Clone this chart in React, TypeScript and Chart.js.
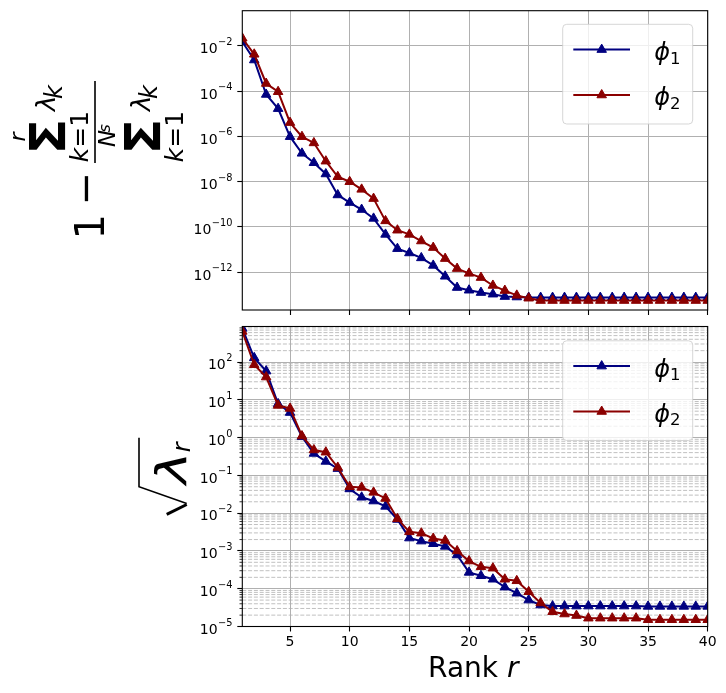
import React, { useEffect, useRef } from 'react';
import { Chart, registerables } from 'chart.js';

Chart.register(...registerables);

const FONT = "'DejaVu Sans'";
const NAVY = '#000080';
const DARKRED = '#8b0000';
const GRID = '#b0b0b0';

// ---------------- data ----------------
const ranks = [1, 2, 3, 4, 5, 6, 7, 8, 9, 10, 11, 12, 13, 14, 15, 16, 17, 18, 19, 20,
  21, 22, 23, 24, 25, 26, 27, 28, 29, 30, 31, 32, 33, 34, 35, 36, 37, 38, 39, 40];
const xTicks = [5, 10, 15, 20, 25, 30, 35, 40];
const topYTicks = [1e-2, 1e-4, 1e-6, 1e-8, 1e-10, 1e-12];
const bottomYTicks = [1e2, 1e1, 1e0, 1e-1, 1e-2, 1e-3, 1e-4, 1e-5];
const minorMultipliers = [2, 3, 4, 5, 6, 7, 8, 9];
const topYMin = 2.14e-14;
const topYMax = 0.363;
const bottomYMin = 1e-5;
const bottomYMax = 871;
const legendSubscripts = ['1', '2'];

// 1 - sum_{k<=r} lambda_k / sum lambda_k
const topPhi1 = [1.55e-2, 2.4e-3, 7.2e-5, 1.7e-5, 9.8e-7, 1.8e-7, 6.9e-8, 2.2e-8, 2.6e-9, 1.2e-9,
  5.9e-10, 2.4e-10, 4.7e-11, 1.1e-11, 7.1e-12, 4.3e-12, 2.0e-12, 6.6e-13, 2.1e-13, 1.6e-13,
  1.26e-13, 1.07e-13, 8.4e-14, 8.0e-14, 7.6e-14, 7.6e-14, 7.6e-14, 7.6e-14, 7.6e-14, 7.6e-14,
  7.6e-14, 7.6e-14, 7.6e-14, 7.6e-14, 7.6e-14, 7.6e-14, 7.6e-14, 7.6e-14, 7.6e-14, 7.6e-14];
const topPhi2 = [2.2e-2, 4.3e-3, 2.2e-4, 9.5e-5, 4.1e-6, 9.8e-7, 5.2e-7, 8.1e-8, 1.66e-8, 1.0e-8,
  4.6e-9, 1.8e-9, 1.86e-10, 7.2e-11, 4.7e-11, 2.4e-11, 1.23e-11, 4.0e-12, 1.45e-12, 8.9e-13,
  5.8e-13, 2.6e-13, 1.55e-13, 9.5e-14, 7.1e-14, 5.6e-14, 5.6e-14, 5.6e-14, 5.6e-14, 5.6e-14,
  5.6e-14, 5.6e-14, 5.6e-14, 5.6e-14, 5.6e-14, 5.6e-14, 5.6e-14, 5.6e-14, 5.6e-14, 5.6e-14];

// sqrt(lambda_r)
const botPhi1 = [776, 129, 57.5, 7.8, 4.6, 1.05, 0.38, 0.234, 0.151, 0.0437,
  0.0263, 0.0209, 0.0151, 6.8e-3, 2.19e-3, 1.82e-3, 1.55e-3, 1.32e-3, 7.8e-4, 2.7e-4,
  2.2e-4, 1.78e-4, 1.10e-4, 7.6e-5, 5.0e-5, 3.7e-5, 3.47e-5, 3.47e-5, 3.47e-5, 3.47e-5,
  3.47e-5, 3.47e-5, 3.47e-5, 3.47e-5, 3.4e-5, 3.4e-5, 3.4e-5, 3.4e-5, 3.4e-5, 3.4e-5];
const botPhi2 = [646, 85, 40, 7.1, 5.9, 1.1, 0.47, 0.41, 0.162, 0.050,
  0.048, 0.0355, 0.0245, 7.1e-3, 3.2e-3, 2.95e-3, 2.14e-3, 1.9e-3, 1.0e-3, 5.4e-4,
  3.8e-4, 3.5e-4, 1.78e-4, 1.62e-4, 8.3e-5, 4.2e-5, 2.45e-5, 2.14e-5, 1.95e-5, 1.66e-5,
  1.66e-5, 1.66e-5, 1.66e-5, 1.66e-5, 1.51e-5, 1.51e-5, 1.51e-5, 1.51e-5, 1.51e-5, 1.51e-5];

// ---------------- drawing helpers ----------------
type Run = { text: string; font: string; dy?: number };

function drawInk(ctx: CanvasRenderingContext2D, runs: Run[], cx: number, cy: number, rotate: boolean) {
  ctx.save();
  ctx.translate(cx, cy);
  if (rotate) ctx.rotate(-Math.PI / 2);
  ctx.textAlign = 'left';
  ctx.textBaseline = 'alphabetic';
  let pen = 0;
  let left = Infinity, right = -Infinity, asc = 0, desc = 0;
  const pens: number[] = [];
  for (const r of runs) {
    ctx.font = r.font;
    const m = ctx.measureText(r.text);
    const dy = r.dy || 0;
    pens.push(pen);
    left = Math.min(left, pen - m.actualBoundingBoxLeft);
    right = Math.max(right, pen + m.actualBoundingBoxRight);
    asc = Math.max(asc, m.actualBoundingBoxAscent - dy);
    desc = Math.max(desc, m.actualBoundingBoxDescent + dy);
    pen += m.width;
  }
  const ox = -(left + right) / 2;
  const oy = (asc - desc) / 2;
  runs.forEach((r, i) => {
    ctx.font = r.font;
    ctx.fillText(r.text, ox + pens[i], oy + (r.dy || 0));
  });
  ctx.restore();
}

function drawFit(ctx: CanvasRenderingContext2D, text: string, font: string, cx: number, cy: number,
  along: number, perp: number, rotate: boolean) {
  ctx.save();
  ctx.translate(cx, cy);
  if (rotate) ctx.rotate(-Math.PI / 2);
  ctx.font = font;
  ctx.textAlign = 'left';
  ctx.textBaseline = 'alphabetic';
  const m = ctx.measureText(text);
  const w = m.actualBoundingBoxLeft + m.actualBoundingBoxRight;
  const h = m.actualBoundingBoxAscent + m.actualBoundingBoxDescent;
  ctx.scale(along / w, perp / h);
  ctx.fillText(text, -(m.actualBoundingBoxRight - m.actualBoundingBoxLeft) / 2,
    (m.actualBoundingBoxAscent - m.actualBoundingBoxDescent) / 2);
  ctx.restore();
}

function drawLogLabels(ctx: CanvasRenderingContext2D, scale: any, ticks: number[], rightX: number) {
  ctx.save();
  ctx.fillStyle = '#000';
  ctx.textAlign = 'right';
  ctx.textBaseline = 'alphabetic';
  for (const v of ticks) {
    const py = scale.getPixelForValue(v);
    const e = Math.round(Math.log10(v));
    const es = e < 0 ? '\u2212' + String(-e) : String(e);
    ctx.font = `9.8px ${FONT}`;
    ctx.fillText(es, rightX, py - 1);
    const ew = ctx.measureText(es).width;
    ctx.font = `14px ${FONT}`;
    ctx.fillText('10', rightX - ew - 0.5, py + 7.3);
  }
  ctx.restore();
}

function drawFrame(chart: any) {
  const ctx: CanvasRenderingContext2D = chart.ctx;
  const a = chart.chartArea;
  ctx.save();
  ctx.strokeStyle = '#000';
  ctx.lineWidth = 1.1;
  ctx.strokeRect(a.left, a.top, a.right - a.left, a.bottom - a.top);
  ctx.restore();
}

function drawTriangle(ctx: CanvasRenderingContext2D, x: number, y: number, r: number, color: string) {
  ctx.save();
  ctx.fillStyle = color;
  ctx.strokeStyle = color;
  ctx.lineWidth = 1;
  ctx.beginPath();
  let rad = 0;
  const third = (2 * Math.PI) / 3;
  ctx.moveTo(x + Math.sin(rad) * r, y - Math.cos(rad) * r);
  rad += third;
  ctx.lineTo(x + Math.sin(rad) * r, y - Math.cos(rad) * r);
  rad += third;
  ctx.lineTo(x + Math.sin(rad) * r, y - Math.cos(rad) * r);
  ctx.closePath();
  ctx.fill();
  ctx.stroke();
  ctx.restore();
}

function drawLegend(ctx: CanvasRenderingContext2D, left: number, top: number) {
  ctx.save();
  ctx.beginPath();
  (ctx as any).roundRect(left, top, 130, 99.7, 4);
  ctx.fillStyle = 'rgba(255,255,255,0.8)';
  ctx.fill();
  ctx.strokeStyle = 'rgba(204,204,204,0.8)';
  ctx.lineWidth = 1;
  ctx.stroke();
  const colors = [NAVY, DARKRED];
  const lineY = [25.3, 70.7];
  const textY = [29, 74];
  legendSubscripts.forEach((sub, i) => {
    const y = top + lineY[i];
    ctx.strokeStyle = colors[i];
    ctx.lineWidth = 2;
    ctx.beginPath();
    ctx.moveTo(left + 10.6, y);
    ctx.lineTo(left + 67.3, y);
    ctx.stroke();
    drawTriangle(ctx, left + 39, y, 5.5, colors[i]);
    ctx.fillStyle = '#000';
    drawInk(ctx, [
      { text: '\u03d5', font: `italic 24px ${FONT}` },
      { text: sub, font: `16.5px ${FONT}`, dy: 3.3 },
    ], left + 104, top + textY[i], false);
  });
  ctx.restore();
}

function drawTopYLabel(ctx: CanvasRenderingContext2D) {
  ctx.save();
  ctx.fillStyle = '#000';
  drawInk(ctx, [{ text: '1', font: `40px ${FONT}` }], 89.2, 226.5, true);
  drawInk(ctx, [{ text: '\u2212', font: `40px ${FONT}` }], 91, 188.3, true);
  ctx.fillRect(94.2, 81, 1.6, 82);
  for (const dx of [0, 95]) {
    drawFit(ctx, '\u03a3', `bold 48px ${FONT}`, 46.7 + dx, 136, 28.3, 36.7, true);
    drawInk(ctx, [{ text: '\u03bb', font: `italic 26px ${FONT}` }], 45 + dx, 105.5, true);
    drawInk(ctx, [{ text: 'k', font: `italic 24px ${FONT}` }], 52.5 + dx, 91.5, true);
    drawInk(ctx, [
      { text: 'k', font: `italic 25px ${FONT}` },
      { text: '=1', font: `25px ${FONT}` },
    ], 78 + dx, 137.5, true);
  }
  drawInk(ctx, [{ text: 'r', font: `italic 22px ${FONT}` }], 19, 136, true);
  drawInk(ctx, [{ text: 'N', font: `italic 23px ${FONT}` }], 106.5, 138.5, true);
  drawInk(ctx, [{ text: 's', font: `italic 16px ${FONT}` }], 105, 128.5, true);
  ctx.restore();
}

function drawBottomYLabel(ctx: CanvasRenderingContext2D) {
  ctx.save();
  ctx.strokeStyle = '#000';
  ctx.fillStyle = '#000';
  ctx.lineWidth = 1.6;
  ctx.beginPath();
  ctx.moveTo(139, 117.7);
  ctx.lineTo(139, 166.7);
  ctx.lineTo(186.7, 183.5);
  ctx.stroke();
  ctx.lineWidth = 3;
  ctx.beginPath();
  ctx.moveTo(186.7, 184.5);
  ctx.lineTo(166.7, 194.3);
  ctx.stroke();
  drawFit(ctx, '\u03bb', `italic 42px ${FONT}`, 170, 151.7, 30, 33, true);
  drawInk(ctx, [{ text: 'r', font: `italic 24px ${FONT}` }], 183.3, 126.3, true);
  ctx.restore();
}

// ---------------- chart configuration ----------------
function series(values: number[], color: string) {
  return {
    data: ranks.map((r, i) => ({ x: r, y: values[i] })),
    borderColor: color,
    backgroundColor: color,
    pointBackgroundColor: color,
    pointBorderColor: color,
    pointStyle: 'triangle',
    pointRadius: 5.5,
    pointHoverRadius: 5.5,
    pointBorderWidth: 1,
    borderWidth: 2,
    tension: 0,
    fill: false,
  };
}

function xScale(showLabels: boolean) {
  return {
    type: 'linear',
    min: 1,
    max: 40,
    bounds: 'data',
    afterBuildTicks: (s: any) => { s.ticks = xTicks.map((v) => ({ value: v })); },
    afterFit: (s: any) => { s.height = showLabels ? 66.5 : 10; },
    ticks: {
      display: showLabels,
      padding: 2,
      color: '#000',
      font: { family: 'DejaVu Sans', size: 14 },
      maxRotation: 0,
      autoSkip: false,
      callback: (v: any) => String(v),
    },
    grid: { color: GRID, lineWidth: 1, tickColor: '#000', tickLength: 5, tickWidth: 1.1 },
    border: { display: false },
  };
}

function yScale(min: number, max: number, ticks: number[]) {
  return {
    type: 'logarithmic',
    min,
    max,
    bounds: 'data',
    afterBuildTicks: (s: any) => { s.ticks = ticks.map((v) => ({ value: v })); },
    afterFit: (s: any) => { s.width = 242.3; },
    ticks: { display: false },
    grid: { color: GRID, lineWidth: 1, tickColor: '#000', tickLength: 5, tickWidth: 1.1 },
    border: { display: false },
  };
}

const topPlugin = {
  id: 'topDecor',
  afterDatasetsDraw(chart: any) { drawFrame(chart); },
  afterDraw(chart: any) {
    const ctx = chart.ctx as CanvasRenderingContext2D;
    const a = chart.chartArea;
    drawLogLabels(ctx, chart.scales.y, topYTicks, a.left - 9.8);
    drawLegend(ctx, a.right - 145, a.top + 13.6);
    drawTopYLabel(ctx);
  },
};

const bottomPlugin = {
  id: 'bottomDecor',
  beforeDatasetsDraw(chart: any) {
    const ctx = chart.ctx as CanvasRenderingContext2D;
    const a = chart.chartArea;
    const y = chart.scales.y;
    ctx.save();
    ctx.strokeStyle = GRID;
    ctx.lineWidth = 0.8;
    ctx.setLineDash([4, 1.8]);
    for (const base of bottomYTicks) {
      for (const m of minorMultipliers) {
        const v = base * m;
        if (v <= bottomYMin || v >= bottomYMax) continue;
        const py = y.getPixelForValue(v);
        ctx.beginPath();
        ctx.moveTo(a.left, py);
        ctx.lineTo(a.right, py);
        ctx.stroke();
      }
    }
    ctx.restore();
  },
  afterDatasetsDraw(chart: any) {
    drawFrame(chart);
    const ctx = chart.ctx as CanvasRenderingContext2D;
    const a = chart.chartArea;
    const y = chart.scales.y;
    ctx.save();
    ctx.strokeStyle = '#000';
    ctx.lineWidth = 0.8;
    for (const base of bottomYTicks) {
      for (const m of minorMultipliers) {
        const v = base * m;
        if (v <= bottomYMin || v >= bottomYMax) continue;
        const py = y.getPixelForValue(v);
        ctx.beginPath();
        ctx.moveTo(a.left - 2.8, py);
        ctx.lineTo(a.left, py);
        ctx.stroke();
      }
    }
    ctx.restore();
  },
  afterDraw(chart: any) {
    const ctx = chart.ctx as CanvasRenderingContext2D;
    const a = chart.chartArea;
    drawLogLabels(ctx, chart.scales.y, bottomYTicks, a.left - 9.8);
    drawLegend(ctx, a.right - 145, a.top + 14.3);
    drawBottomYLabel(ctx);
    ctx.save();
    ctx.fillStyle = '#000';
    drawInk(ctx, [
      { text: 'Rank ', font: `28px ${FONT}` },
      { text: 'r', font: `italic 28px ${FONT}` },
    ], (a.left + a.right) / 2, a.bottom + 39.8, false);
    ctx.restore();
  },
};

function makeConfig(v1: number[], v2: number[], x: any, y: any, padTop: number, plugin: any): any {
  return {
    type: 'line',
    data: { datasets: [series(v2, DARKRED), series(v1, NAVY)] },
    options: {
      animation: false,
      responsive: false,
      maintainAspectRatio: false,
      events: [],
      layout: { padding: { left: 0, right: 18.3, top: padTop, bottom: 0 } },
      plugins: { legend: { display: false }, tooltip: { enabled: false }, title: { display: false } },
      scales: { x, y },
    },
    plugins: [plugin],
  };
}

export default function App() {
  const topRef = useRef<HTMLCanvasElement>(null);
  const botRef = useRef<HTMLCanvasElement>(null);

  useEffect(() => {
    Chart.defaults.font.family = 'DejaVu Sans';
    const c1 = new Chart(topRef.current as HTMLCanvasElement,
      makeConfig(topPhi1, topPhi2, xScale(false), yScale(topYMin, topYMax, topYTicks), 10.7, topPlugin));
    const c2 = new Chart(botRef.current as HTMLCanvasElement,
      makeConfig(botPhi1, botPhi2, xScale(true), yScale(bottomYMin, bottomYMax, bottomYTicks), 5, bottomPlugin));
    return () => {
      c1.destroy();
      c2.destroy();
    };
  }, []);

  return (
    <div style={{ position: 'absolute', left: 0, top: 0, width: 726, height: 693, background: '#fff' }}>
      <canvas ref={topRef} width={726} height={320}
        style={{ position: 'absolute', left: 0, top: 0, width: 726, height: 320, display: 'block' }} />
      <canvas ref={botRef} width={726} height={373}
        style={{ position: 'absolute', left: 0, top: 320, width: 726, height: 373, display: 'block' }} />
    </div>
  );
}
